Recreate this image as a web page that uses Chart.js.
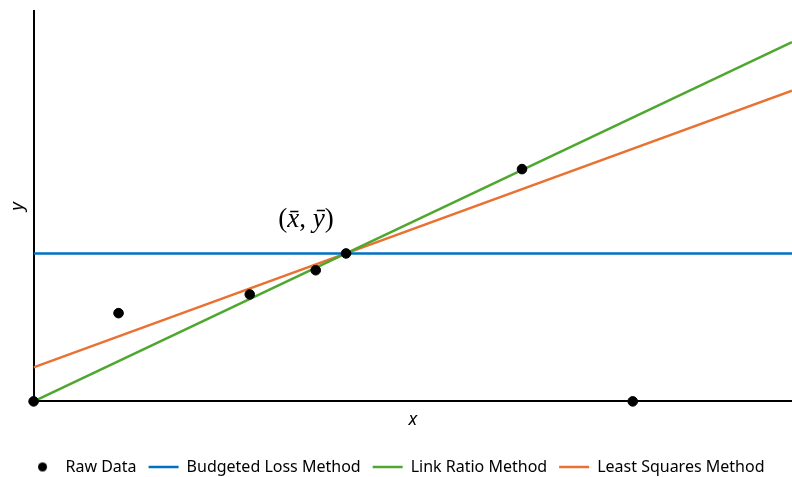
<!DOCTYPE html>
<html>
<head>
<meta charset="utf-8">
<script src="https://cdn.jsdelivr.net/npm/chart.js@4"></script>
<style>
  html, body { margin: 0; padding: 0; background: #fff; }
  #wrap { width: 792px; height: 477px; }
</style>
</head>
<body>
<div id="wrap"><canvas id="chart"></canvas></div>
<script>
const rawX = [0, 1.12, 2.85, 3.72, 4.12, 6.44, 7.9];
const rawY = [0, 2.26, 2.74, 3.36, 3.79, 5.95, 0];

const lineX = [0, 10];
const budgeted = [3.79, 3.79];
const linkRatio = [0, 9.2];
const leastSquares = [0.87, 7.96];

const meanPoint = { x: 4.12, y: 3.79 };

const toPoints = (xs, ys) => xs.map((x, i) => ({ x, y: ys[i] }));

// small round marker for the legend, so it is not stretched like the lines
const dot = document.createElement("canvas");
dot.width = 11;
dot.height = 11;
const dctx = dot.getContext("2d");
dctx.fillStyle = "#000";
dctx.beginPath();
dctx.arc(5.5, 5.5, 4.5, 0, Math.PI * 2);
dctx.fill();

// label for the mean point, "(x̄, ȳ)" in math style
const meanLabel = {
	id: "meanLabel",
	afterDatasetsDraw(chart) {
		const { ctx, scales } = chart;
		const cx = scales.x.getPixelForValue(meanPoint.x) - 40;
		const cy = scales.y.getPixelForValue(meanPoint.y) - 34;
		const parts = [
			["(", "normal"],
			["x\u0304", "italic"],
			[",", "normal"],
			[" ", "normal"],
			["y\u0304", "italic"],
			[")", "normal"],
		];
		ctx.save();
		ctx.fillStyle = "#000";
		ctx.textBaseline = "middle";
		ctx.textAlign = "left";
		let total = 0;
		parts.forEach(([t, s]) => {
			ctx.font = `${s} 27px "Liberation Serif"`;
			total += ctx.measureText(t).width;
		});
		let x = cx - total / 2;
		parts.forEach(([t, s]) => {
			ctx.font = `${s} 27px "Liberation Serif"`;
			ctx.fillText(t, x, cy);
			x += ctx.measureText(t).width;
		});
		ctx.restore();
	},
};

new Chart(document.getElementById("chart").getContext("2d"), {
	type: "scatter",
	data: {
		datasets: [
			{
				label: "Raw Data",
				data: toPoints(rawX, rawY),
				backgroundColor: "#000",
				borderColor: "#000",
				pointRadius: 4.8,
				pointStyle: "circle",
				clip: false,
			},
			{
				label: "Budgeted Loss Method",
				type: "line",
				data: toPoints(lineX, budgeted),
				borderColor: "#0070C0",
				backgroundColor: "#0070C0",
				borderWidth: 2.5,
				pointRadius: 0,
				pointStyle: "line",
			},
			{
				label: "Link Ratio Method",
				type: "line",
				data: toPoints(lineX, linkRatio),
				borderColor: "#4EA72E",
				backgroundColor: "#4EA72E",
				borderWidth: 2.5,
				pointRadius: 0,
				pointStyle: "line",
			},
			{
				label: "Least Squares Method",
				type: "line",
				data: toPoints(lineX, leastSquares),
				borderColor: "#E97132",
				backgroundColor: "#E97132",
				borderWidth: 2.5,
				pointRadius: 0,
				pointStyle: "line",
			},
		],
	},
	options: {
		responsive: true,
		maintainAspectRatio: false,
		animation: false,
		devicePixelRatio: 1,
		layout: {
			autoPadding: false,
			padding: { top: 11, left: 0, right: 0, bottom: -8 },
		},
		scales: {
			x: {
				type: "linear",
				min: 0,
				max: 10,
				grid: { display: false, drawTicks: false },
				border: { display: true, color: "#000", width: 2 },
				ticks: { display: false },
				title: {
					display: true,
					text: "x",
					color: "#000",
					font: { family: "Noto Sans", size: 18, style: "italic" },
					padding: { top: 8, bottom: 16 },
				},
			},
			y: {
				type: "linear",
				min: 0,
				max: 10,
				grid: { display: false, drawTicks: false },
				border: { display: true, color: "#000", width: 2 },
				ticks: { display: false },
				title: {
					display: true,
					text: "y",
					color: "#000",
					font: { family: "Noto Sans", size: 18, style: "italic" },
					padding: { top: 7, bottom: 5 },
				},
			},
		},
		plugins: {
			tooltip: { enabled: false },
			legend: {
				position: "bottom",
				labels: {
					usePointStyle: true,
					pointStyleWidth: 30,
					boxHeight: 6,
					padding: 12,
					color: "#000",
					font: { family: "Noto Sans", size: 16 },
					generateLabels: (chart) => {
						const items = Chart.defaults.plugins.legend.labels.generateLabels(chart);
						items[0].pointStyle = dot;
						return items;
					},
				},
			},
		},
	},
	plugins: [meanLabel],
});
</script>
</body>
</html>
